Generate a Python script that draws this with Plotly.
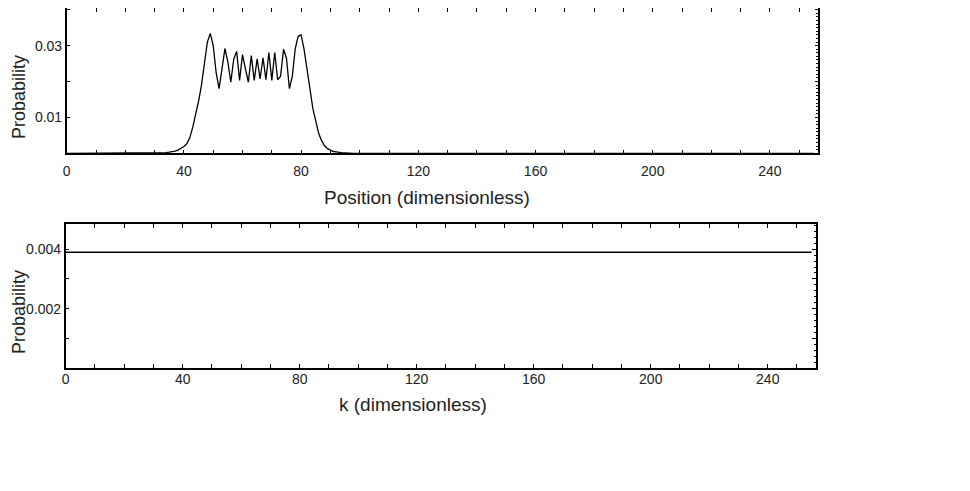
import plotly.graph_objects as go

# position space probability (non-zero part, x = 30 .. 97)
packet_start = 30
packet_prob = [
    0.0000, 0.0000, 0.0001, 0.0001, 0.0002, 0.0003, 0.0004, 0.0006, 0.0009, 0.0013,  # 30-39
    0.0019, 0.0027, 0.0043, 0.0072, 0.0105, 0.0145, 0.0190, 0.0250, 0.0310, 0.0334,  # 40-49
    0.0300, 0.0225, 0.0180, 0.0235, 0.0292, 0.0255, 0.0198, 0.0262, 0.0284, 0.0203,  # 50-59
    0.0275, 0.0235, 0.0198, 0.0272, 0.0203, 0.0263, 0.0207, 0.0266, 0.0205, 0.0281,  # 60-69
    0.0203, 0.0281, 0.0205, 0.0215, 0.0290, 0.0265, 0.0180, 0.0215, 0.0292, 0.0326,  # 70-79
    0.0330, 0.0290, 0.0240, 0.0180, 0.0125, 0.0085, 0.0055, 0.0035, 0.0021, 0.0013,  # 80-89
    0.0008, 0.0005, 0.0004, 0.0002, 0.0001, 0.0001, 0.0000, 0.0000,                  # 90-97
]
n_points = 256
positions = list(range(n_points))
position_prob = ([0.0] * packet_start + packet_prob
                 + [0.0] * (n_points - packet_start - len(packet_prob)))

# momentum space probability: flat line
k_values = list(range(n_points))
k_prob = [0.0039] * n_points

x_ticks = list(range(0, 251, 10))
x_labels = [str(v) if v % 40 == 0 else "" for v in x_ticks]
top_y_ticks = [0.01, 0.02, 0.03, 0.04]
top_y_labels = ["0.01", "", "0.03", ""]
bot_y_ticks = [0.001, 0.002, 0.003, 0.004]
bot_y_labels = ["", "0.002", "", "0.004"]

W, H = 970, 491
PAGE_OFFSET = 8  # the page body margin shifts the figure by 8 px
FONT = "Liberation Sans, Arial, sans-serif"


def px_x(p):
    return (p - PAGE_OFFSET) / W


def px_y(p):
    return 1 - (p - PAGE_OFFSET) / H


fig = go.Figure()
fig.add_trace(go.Scatter(x=positions, y=position_prob, mode="lines",
                         line=dict(color="black", width=1.3),
                         xaxis="x", yaxis="y", showlegend=False))
fig.add_trace(go.Scatter(x=k_values, y=k_prob, mode="lines",
                         line=dict(color="black", width=1.5),
                         xaxis="x2", yaxis="y2", showlegend=False))

axis_common = dict(showgrid=False, zeroline=False, showline=True, automargin=False,
                   linecolor="black", linewidth=1.5, mirror="ticks",
                   ticks="inside", ticklen=4, tickcolor="black", tickwidth=1)
minor_common = dict(showgrid=False, zeroline=False, showticklabels=False, automargin=False,
                    ticks="inside", ticklen=2, tickcolor="black", side="right")

fig.update_layout(
    width=W, height=H,
    margin=dict(l=0, r=0, t=0, b=0),
    paper_bgcolor="white", plot_bgcolor="white",
    font=dict(family=FONT, size=14, color="#222"),
    xaxis=dict(domain=[px_x(66.7), px_x(818.3)], anchor="y", range=[0, 256.5],
               tickvals=x_ticks, ticktext=x_labels, ticklabelstandoff=4, **axis_common),
    yaxis=dict(domain=[px_y(153.3), px_y(8.3)], anchor="x", range=[0, 0.0404],
               tickvals=top_y_ticks, ticktext=top_y_labels, **axis_common),
    yaxis3=dict(overlaying="y", anchor="x", range=[0, 0.0404], dtick=0.001, **minor_common),
    xaxis2=dict(domain=[px_x(65.7), px_x(816)], anchor="y2", range=[0, 256.5],
                tickvals=x_ticks, ticktext=x_labels, ticklabelstandoff=-3, **axis_common),
    yaxis2=dict(domain=[px_y(368), px_y(224)], anchor="x2", range=[0, 0.00485],
                tickvals=bot_y_ticks, ticktext=bot_y_labels, **axis_common),
    yaxis4=dict(overlaying="y2", anchor="x2", range=[0, 0.00485], dtick=0.0002, **minor_common),
)

# invisible traces so the overlay (minor tick) axes are drawn
fig.add_trace(go.Scatter(x=[0], y=[0], mode="markers", opacity=0,
                         xaxis="x", yaxis="y3", showlegend=False, hoverinfo="skip"))
fig.add_trace(go.Scatter(x=[0], y=[0], mode="markers", opacity=0,
                         xaxis="x2", yaxis="y4", showlegend=False, hoverinfo="skip"))

titles = [
    ("Probability", 19, 97, -90, 18),
    ("Probability", 19, 312, -90, 18),
    ("Position (dimensionless)", 427, 197, 0, 19),
    ("k (dimensionless)", 413, 404, 0, 19),
]
for text, x, y, angle, size in titles:
    fig.add_annotation(text=text, x=px_x(x), y=px_y(y), xref="paper", yref="paper",
                       showarrow=False, textangle=angle,
                       font=dict(family=FONT, size=size, color="#222"),
                       xanchor="center", yanchor="middle")

fig.write_html("out.html")
